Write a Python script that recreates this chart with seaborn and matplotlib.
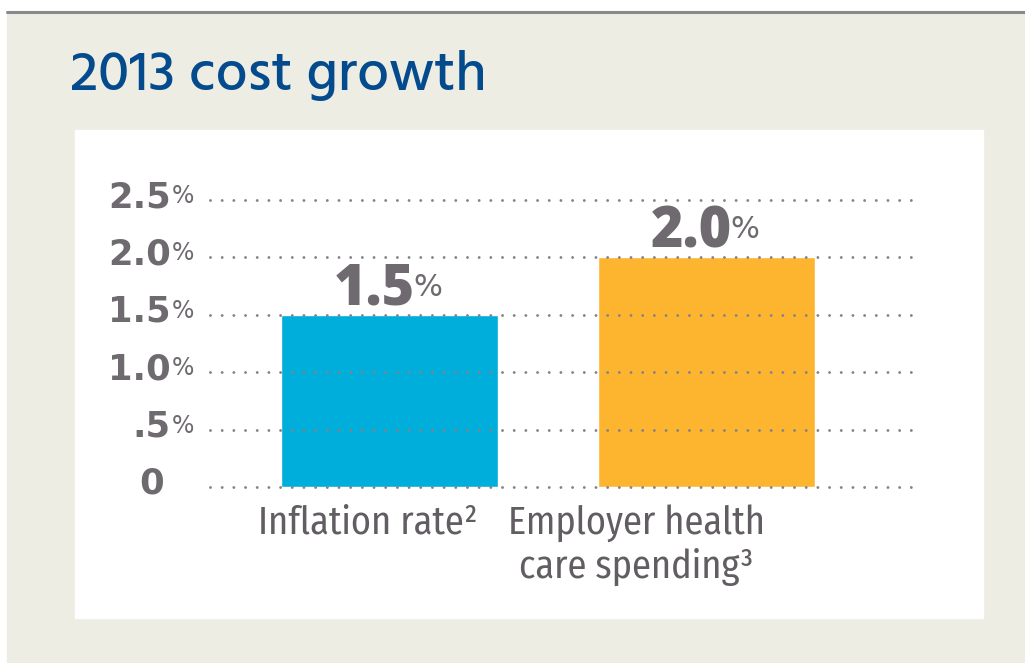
import matplotlib
matplotlib.use("Agg")
import matplotlib.pyplot as plt
import matplotlib.transforms as mtransforms
from matplotlib.patches import Rectangle
from matplotlib.lines import Line2D
import seaborn as sns

# data
categories = ["Inflation rate\u00b2", "Employer health\ncare spending\u00b3"]
values = [1.5, 2.0]
value_labels = ["1.5", "2.0"]
bar_colors = ["#00AEDB", "#FDB530"]
tick_values = [0, 0.5, 1.0, 1.5, 2.0, 2.5]
tick_numbers = ["0", ".5", "1.0", "1.5", "2.0", "2.5"]
tick_percent = ["", "%", "%", "%", "%", "%"]
label_shift_px = [-22, -70]  # category labels sit a bit left of bar centres

title_color = "#034B8C"
num_color = "#6E6A6F"
cat_color = "#625D62"
grid_color = "#848287"

tick_font = ["DejaVu Sans"]
value_font = ["Open Sans", "DejaVu Sans"]
cat_font = ["Fira Sans Condensed", "DejaVu Sans"]

sns.set_theme(style="white")
plt.rcParams["lines.scale_dashes"] = False

fig = plt.figure(figsize=(10.25, 6.63), dpi=100)
fig.patch.set_facecolor("white")
W, H = 1025, 663

# beige card, top rule, white panel (kept behind the axes)
fig.add_artist(Rectangle((7 / W, 0), 1, (H - 13) / H, transform=fig.transFigure,
                         color="#EEEDE3", zorder=-3))
fig.add_artist(Line2D([7 / W, 1], [(H - 12) / H] * 2, transform=fig.transFigure,
                      color="#8A8A8C", lw=2.2, zorder=-2))
fig.add_artist(Rectangle((75 / W, (H - 618) / H), 908 / W, 488 / H,
                         transform=fig.transFigure, color="white", zorder=-2))

fig.text(70 / W, (H - 90) / H, "2013 cost growth", family=["Hind", "Open Sans"],
         fontsize=40.8, fontweight=500, color=title_color, va="baseline", ha="left")

ax = fig.add_axes([210 / W, (H - 487) / H, 712 / W, 287 / H])
ax.set_facecolor("none")
ax.patch.set_alpha(0)

sns.barplot(x=categories, y=values, hue=categories, palette=bar_colors, legend=False,
            width=0.685, saturation=1, ax=ax, zorder=2)

ax.set_xlim(-0.566, 1.68)
ax.set_ylim(0, 2.5)
for s in ax.spines.values():
    s.set_visible(False)
ax.set_xticks([])
ax.set_yticks([])
ax.set_xlabel("")
ax.set_ylabel("")

# dotted gridlines on top of the bars
for v in tick_values:
    ax.axhline(v, color=grid_color, lw=2.1, linestyle=(0, (0.01, 8.4)),
               dash_capstyle="round", zorder=3, clip_on=False)

# y tick labels: bold number + light %
trans = mtransforms.blended_transform_factory(ax.transAxes, ax.transData)
for v, num, pct in zip(tick_values, tick_numbers, tick_percent):
    if pct:
        t = ax.annotate(num, xy=(0, v), xycoords=trans, xytext=(-39 * 0.72, -7 * 0.72),
                        textcoords="offset points", ha="right", va="baseline",
                        fontsize=25.5, fontweight="bold", color=num_color,
                        family=tick_font, annotation_clip=False)
        ax.annotate(pct, xy=(1, v), xycoords=(t, "data"), xytext=(0.8, -3 * 0.72),
                    textcoords="offset points", ha="left", va="baseline",
                    fontsize=17, color=num_color, family="DejaVu Sans",
                    annotation_clip=False)
    else:
        ax.annotate(num, xy=(0, v), xycoords=trans, xytext=(-58 * 0.72, -7 * 0.72),
                    textcoords="offset points", ha="center", va="baseline",
                    fontsize=25.5, fontweight="bold", color=num_color,
                    family=tick_font, annotation_clip=False)

# value labels above bars
for i, (v, lab) in enumerate(zip(values, value_labels)):
    t = ax.annotate(lab, xy=(i, v), xycoords="data", xytext=(-15 * 0.72, 10 * 0.72),
                    textcoords="offset points", ha="center", va="baseline",
                    fontsize=40, fontweight=800, color=num_color,
                    family=value_font, annotation_clip=False)
    ax.annotate("%", xy=(1, v), xycoords=(t, "data"), xytext=(-1, 19 * 0.72),
                textcoords="offset points", ha="left", va="baseline",
                fontsize=22, color=num_color, family="DejaVu Sans",
                annotation_clip=False)

# category labels
for i, (cat, sh) in enumerate(zip(categories, label_shift_px)):
    ax.annotate(cat, xy=(i, 0), xycoords="data", xytext=(sh * 0.72, -17 * 0.72),
                textcoords="offset points", ha="center", va="top", multialignment="center",
                fontsize=27.5, color=cat_color, linespacing=1.2,
                family=cat_font, annotation_clip=False)

fig.savefig("out.png", dpi=100, facecolor=fig.get_facecolor())
